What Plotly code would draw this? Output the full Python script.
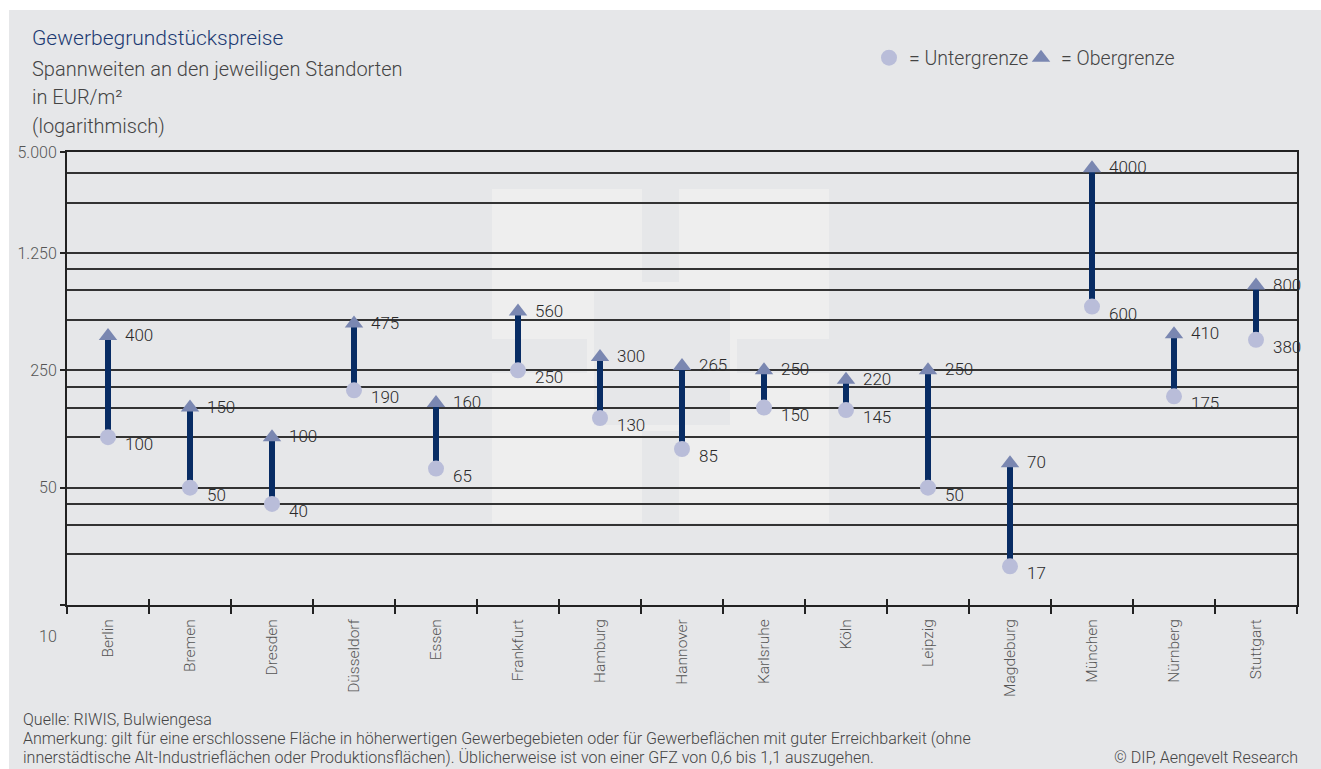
import math
import plotly.graph_objects as go

# Price ranges per city (EUR/m²)
cities = ["Berlin", "Bremen", "Dresden", "Düsseldorf", "Essen", "Frankfurt", "Hamburg",
          "Hannover", "Karlsruhe", "Köln", "Leipzig", "Magdeburg", "München", "Nürnberg", "Stuttgart"]
lower = [100, 50, 40, 190, 65, 250, 130, 85, 150, 145, 50, 17, 600, 175, 380]
upper = [400, 150, 100, 475, 160, 560, 300, 265, 250, 220, 250, 70, 4000, 410, 800]

# Logarithmic axis: labelled ticks and the extra horizontal rules
y_tick_values = [10, 50, 250, 1250, 5000]
y_tick_text = ["<br><br><br>10", "50", "250", "1.250", "5.000"]
rule_values = [20, 30, 40, 100, 150, 200, 500, 750, 1000, 2500, 3750]

W, H = 1321, 769
ML, MR, MT, MB = 67, 24, 152, 164
PW, PH = W - ML - MR, H - MT - MB

BG = "#e6e7e9"
LIGHT = "#eeeeee"
FONT = "Roboto"


def fx(p):
    return (p - ML) / PW


def fy(p):
    return (H - MB - p) / PH


# vertical range bars
bar_x, bar_y = [], []
for c, lo, hi in zip(cities, lower, upper):
    bar_x += [c, c, None]
    bar_y += [lo, hi, None]

fig = go.Figure()
fig.add_trace(go.Scatter(x=bar_x, y=bar_y, mode="lines",
                         line=dict(color="#082c64", width=6),
                         showlegend=False, hoverinfo="skip"))
fig.add_trace(go.Scatter(x=cities, y=lower, mode="markers", name="= Untergrenze",
                         legend="legend",
                         marker=dict(symbol="circle", size=16, color="#b9bdd9")))
fig.add_trace(go.Scatter(x=cities, y=upper, mode="markers", name="= Obergrenze",
                         legend="legend2",
                         marker=dict(symbol="triangle-up", size=16, color="#7a87b1")))
# carrier for the inner boundary ticks of the overlaid category axis
fig.add_trace(go.Scatter(x=cities, y=lower, mode="none", xaxis="x2",
                         showlegend=False, hoverinfo="skip"))

label_font = dict(family=FONT, size=17, color="#2a2a2a", weight=300)
annotations = []
for c, lo, hi in zip(cities, lower, upper):
    annotations.append(dict(x=c, y=math.log10(hi), text=str(hi), showarrow=False,
                            xanchor="left", yanchor="middle", xshift=15, yshift=1,
                            font=label_font))
    annotations.append(dict(x=c, y=math.log10(lo), text=str(lo), showarrow=False,
                            xanchor="left", yanchor="middle", xshift=15, yshift=-7,
                            font=label_font))

# heading block
annotations.append(dict(xref="paper", yref="paper", x=fx(30), y=fy(38),
                        text="Gewerbegrundstückspreise", showarrow=False,
                        xanchor="left", yanchor="middle",
                        font=dict(family=FONT, size=21, color="#1c3a72", weight=300)))
for txt, yp in [("Spannweiten an den jeweiligen Standorten", 69),
                ("in EUR/m²", 97), ("(logarithmisch)", 126)]:
    annotations.append(dict(xref="paper", yref="paper", x=fx(30), y=fy(yp),
                            text=txt, showarrow=False, xanchor="left", yanchor="middle",
                            font=dict(family=FONT, size=20, color="#444444", weight=300)))

# footer
foot_font = dict(family=FONT, size=16, color="#444444", weight=300)
for txt, yp in [("Quelle: RIWIS, Bulwiengesa", 719),
                ("Anmerkung: gilt für eine erschlossene Fläche in höherwertigen Gewerbegebieten oder für "
                 "Gewerbeflächen mit guter Erreichbarkeit (ohne", 738),
                ("innerstädtische Alt-Industrieflächen oder Produktionsflächen). Üblicherweise ist von "
                 "einer GFZ von 0,6 bis 1,1 auszugehen.", 757)]:
    annotations.append(dict(xref="paper", yref="paper", x=fx(21), y=fy(yp), text=txt,
                            showarrow=False, xanchor="left", yanchor="middle",
                            font=foot_font))
annotations.append(dict(xref="paper", yref="paper", x=fx(1300), y=fy(757),
                        text="© DIP, Aengevelt Research", showarrow=False,
                        xanchor="right", yanchor="middle", font=foot_font))


def prect(x0, y0, x1, y1, color):
    return dict(type="rect", xref="paper", yref="paper", layer="below",
                x0=fx(x0), x1=fx(x1), y0=fy(y1), y1=fy(y0),
                fillcolor=color, line=dict(width=0))


shapes = [
    # white outer border
    prect(0, 0, W, 10, "white"),
    prect(0, 0, 9, H, "white"),
    # faint logo in the background
    prect(492, 189, 829, 523, LIGHT),
    prect(642, 189, 679, 282, BG),
    prect(594, 290, 730, 425, BG),
    prect(492, 339, 587, 373, BG),
    prect(737, 339, 829, 373, BG),
    prect(642, 431, 679, 523, BG),
]

tick_font = dict(family=FONT, size=16, color="#555555", weight=300)
legend_font = dict(family=FONT, size=19.5, color="#444444", weight=300)

fig.update_layout(
    width=W, height=H,
    margin=dict(l=ML, r=MR, t=MT, b=MB, pad=0),
    paper_bgcolor=BG, plot_bgcolor="rgba(0,0,0,0)",
    font=dict(family=FONT, color="#444444"),
    showlegend=True,
    legend=dict(orientation="h", x=fx(869), y=fy(58), xanchor="left", yanchor="middle",
                bgcolor="rgba(0,0,0,0)", itemwidth=30, font=legend_font),
    legend2=dict(orientation="h", x=fx(1021), y=fy(58), xanchor="left", yanchor="middle",
                 bgcolor="rgba(0,0,0,0)", itemwidth=30, font=legend_font),
    xaxis=dict(type="category", categoryorder="array", categoryarray=cities,
               range=[-0.5, len(cities) - 0.5], tickson="boundaries",
               ticks="outside", ticklen=7, tickwidth=1.5, tickcolor="#222222",
               showline=True, linecolor="#222222", linewidth=2, mirror=True,
               showgrid=False, zeroline=False, tickangle=-90, ticklabelstandoff=6,
               tickfont=dict(family=FONT, size=15.5, color="#555555", weight=300)),
    xaxis2=dict(type="category", categoryorder="array", categoryarray=cities,
                overlaying="x", anchor="y", side="bottom",
                range=[-0.5, len(cities) - 0.5], tickson="boundaries",
                ticks="inside", ticklen=6, tickwidth=1.5, tickcolor="#222222",
                showticklabels=False, showline=False, showgrid=False, zeroline=False),
    yaxis=dict(type="log", range=[1, math.log10(5000)],
               tickmode="array", tickvals=y_tick_values, ticktext=y_tick_text,
               ticks="outside", ticklen=5, tickwidth=1.5, tickcolor="#222222",
               showline=True, linecolor="#222222", linewidth=2, mirror=True,
               showgrid=True, gridcolor="#333333", gridwidth=1.5, zeroline=False,
               minor=dict(tickmode="array", tickvals=rule_values, ticks="",
                          showgrid=True, gridcolor="#333333", gridwidth=1.5),
               tickfont=tick_font),
    annotations=annotations,
    shapes=shapes,
    hovermode=False,
)

fig.write_html("out.html")
